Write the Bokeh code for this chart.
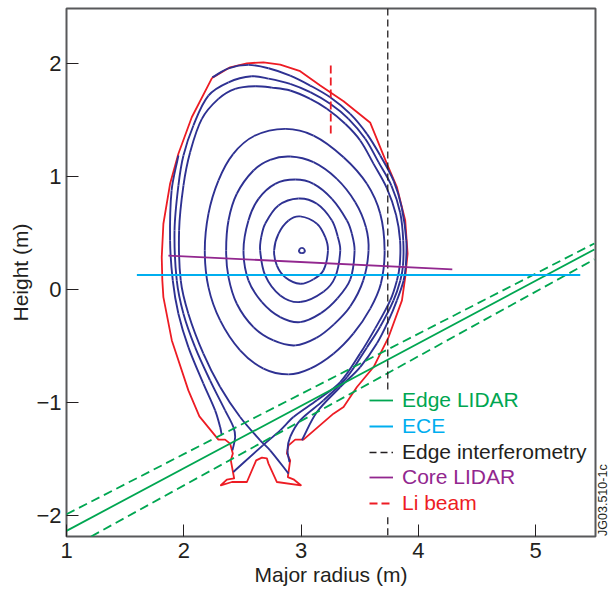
from bokeh.plotting import figure
from bokeh.models import Legend, LegendItem, LinearAxis, FixedTicker
from bokeh.embed import file_html
from bokeh.resources import INLINE
import math

nan = float("nan")

wall_r = [2.241,2.395,2.538,2.679,2.822,2.992,3.163,3.362,3.590,3.732,3.817,3.888,3.908,3.888,3.860,3.746,3.618,3.476,3.362,3.276,3.020,2.950,2.893,2.879,2.907,2.887,2.935,2.998,2.794,2.722,2.708,2.666,2.617,2.538,2.410,2.316,2.367,2.429,2.401,2.418,2.395,2.352,2.295,2.133,2.039,1.898,1.826,1.817,1.812,1.826,1.883,1.954,2.068,2.241]
wall_z = [1.875,1.969,2.004,2.013,1.993,1.934,1.807,1.668,1.477,1.113,0.906,0.611,0.316,0.109,-0.097,-0.422,-0.688,-0.865,-1.043,-1.101,-1.331,-1.331,-1.382,-1.453,-1.515,-1.663,-1.683,-1.736,-1.707,-1.544,-1.497,-1.491,-1.515,-1.707,-1.707,-1.736,-1.686,-1.674,-1.515,-1.455,-1.367,-1.331,-1.331,-1.125,-0.895,-0.452,-0.068,0.080,0.286,0.582,0.936,1.202,1.526,1.875]

sol1a_r = [2.324,2.310,2.267,2.167,2.039,1.954,1.906,1.883,1.896,1.954]
sol1a_z = [-1.293,-1.220,-1.072,-0.835,-0.511,-0.215,0.080,0.434,0.877,1.187]
sol1b_r = [2.244,2.381,2.551,2.722,2.907,3.078,3.248,3.419,3.561,3.675,3.790,3.858,3.897,3.893,3.874,3.817,3.746,3.647,3.504,3.334,3.135,3.007]
sol1b_z = [1.880,1.960,1.990,1.960,1.895,1.807,1.703,1.556,1.379,1.187,0.960,0.726,0.434,0.213,0.080,-0.097,-0.275,-0.478,-0.688,-0.865,-1.087,-1.337]
sol2_r = [2.415,2.438,2.423,2.352,2.224,2.096,1.997,1.940,1.921,1.954,1.997,2.082,2.210,2.381,2.580,2.722,2.907,3.078,3.248,3.404,3.547,3.660,3.770,3.845,3.871,3.869,3.846,3.788,3.675,3.561,3.391,3.191,2.992,2.907,2.884,2.901]
sol2_z = [-1.426,-1.308,-1.220,-1.072,-0.806,-0.511,-0.215,0.080,0.523,0.921,1.187,1.453,1.718,1.836,1.889,1.869,1.822,1.748,1.645,1.512,1.335,1.128,0.920,0.680,0.434,0.213,0.080,-0.097,-0.328,-0.514,-0.777,-0.983,-1.160,-1.308,-1.426,-1.530]
sep_r = [2.893,2.736,2.651,2.480,2.310,2.167,2.039,1.974,1.960,1.997,2.054,2.154,2.295,2.438,2.608,2.751,2.907,3.078,3.220,3.376,3.504,3.618,3.730,3.810,3.844,3.841,3.817,3.760,3.632,3.504,3.334,3.135,2.935,2.822,2.674,2.423]
sep_z = [-1.632,-1.426,-1.337,-1.131,-0.865,-0.570,-0.215,0.080,0.523,0.921,1.216,1.512,1.689,1.778,1.801,1.789,1.763,1.689,1.601,1.468,1.320,1.113,0.900,0.660,0.434,0.213,0.080,-0.097,-0.345,-0.567,-0.821,-0.983,-1.131,-1.249,-1.382,-1.618]

c1_r = [2.864,3.106,3.362,3.561,3.675,3.712,3.680,3.590,3.447,3.276,3.078,2.893,2.679,2.480,2.310,2.210,2.179,2.210,2.295,2.420,2.600,2.864]
c1_z = [1.423,1.364,1.172,0.936,0.670,0.345,0.050,-0.170,-0.390,-0.570,-0.702,-0.753,-0.702,-0.540,-0.275,0.020,0.345,0.670,0.965,1.200,1.360,1.423]
c2_r = [2.907,3.106,3.305,3.462,3.553,3.575,3.530,3.420,3.280,3.130,2.950,2.765,2.594,2.452,2.381,2.361,2.381,2.452,2.594,2.736,2.907]
c2_z = [1.178,1.128,0.980,0.773,0.552,0.345,0.080,-0.150,-0.310,-0.430,-0.496,-0.452,-0.334,-0.127,0.109,0.345,0.611,0.848,1.054,1.149,1.178]
c3_r = [2.950,3.106,3.263,3.391,3.433,3.456,3.420,3.310,3.170,2.992,2.822,2.666,2.551,2.509,2.551,2.637,2.779,2.950]
c3_z = [0.974,0.936,0.803,0.611,0.493,0.345,0.090,-0.080,-0.210,-0.290,-0.245,-0.112,0.080,0.345,0.611,0.803,0.936,0.974]
c4_r = [2.978,3.135,3.263,3.312,3.334,3.291,3.191,2.992,2.822,2.694,2.651,2.660,2.694,2.807,2.978]
c4_z = [0.806,0.759,0.611,0.470,0.345,0.110,-0.020,-0.112,-0.053,0.124,0.345,0.463,0.582,0.744,0.806]
c5_r = [2.992,3.135,3.206,3.229,3.191,3.106,2.992,2.864,2.794,2.770,2.807,2.893,2.992]
c5_z = [0.647,0.582,0.463,0.345,0.170,0.090,0.050,0.109,0.210,0.345,0.493,0.611,0.647]
c6_r = [3.007,3.026,3.029,3.007,2.985,2.988,3.007]
c6_z = [0.368,0.358,0.332,0.322,0.332,0.358,0.368]

edge_r = [1.0, 5.5]
edge_z = [-2.14, 0.354]
edge_hi_r = [1.0, 5.5]
edge_hi_z = [-1.993, 0.407]
edge_lo_r = [1.21, 5.5]
edge_lo_z = [-2.19, 0.266]
ece_r = [1.60, 5.38]
ece_z = [0.128, 0.128]
interf_r = [3.739, 3.739, nan, 3.739, 3.739]
interf_z = [2.49, -0.90, nan, -2.02, -2.19]
core_r = [1.869, 4.289]
core_z = [0.30, 0.177]
li_r = [3.253, 3.253]
li_z = [1.984, 1.346]

x_ticks = [1, 2, 3, 4, 5]
y_ticks = [-2, -1, 0, 1, 2]
y_tick_labels = {-2: "\u22122", -1: "\u22121", 0: "0", 1: "1", 2: "2"}
legend_labels = ["Edge LIDAR", "ECE", "Edge interferometry", "Core LIDAR", "Li beam"]
stamp_text = "JG03.510-1c"
stamp_height = -2.185

BLUE = "#2e3192"
RED = "#ed1c24"
GREEN = "#00a651"
CYAN = "#00aeef"
BLACK = "#231f20"
PURPLE = "#92278f"
FONT = "Liberation Sans"

p = figure(width=609, height=593, output_backend="svg", toolbar_location=None,
           x_range=(1, 5.51), y_range=(-2.19, 2.49),
           min_border_left=66, min_border_right=14, min_border_top=8, min_border_bottom=49,
           frame_width=529, frame_height=528, background_fill_color="white")
p.grid.visible = False
p.outline_line_color = "#58595b"
p.outline_line_width = 2

for ax in (p.xaxis[0], p.yaxis[0]):
    ax.axis_line_color = None
    ax.major_tick_in = 12
    ax.major_tick_out = 0
    ax.minor_tick_line_color = None
    ax.major_tick_line_color = BLACK
    ax.major_tick_line_width = 1
    ax.major_label_text_font = FONT
    ax.major_label_text_font_size = "22px"
    ax.major_label_text_color = BLACK
    ax.axis_label_text_font = FONT
    ax.axis_label_text_font_size = "21px"
    ax.axis_label_text_font_style = "normal"
    ax.axis_label_text_color = BLACK

p.xaxis[0].ticker = FixedTicker(ticks=x_ticks)
p.yaxis[0].ticker = FixedTicker(ticks=y_ticks)
p.yaxis[0].major_label_overrides = y_tick_labels
p.xaxis[0].axis_label = "Major radius (m)"
p.yaxis[0].axis_label = "Height (m)"
p.xaxis[0].major_label_standoff = 6
p.xaxis[0].axis_label_standoff = 2
p.yaxis[0].major_label_standoff = 5
p.yaxis[0].axis_label_standoff = 1

stamp_axis = LinearAxis(ticker=FixedTicker(ticks=[stamp_height]),
                        major_label_overrides={stamp_height: stamp_text},
                        major_label_orientation=math.pi / 2,
                        major_label_standoff=2,
                        major_label_text_font=FONT, major_label_text_font_size="12.5px",
                        major_label_text_color=BLACK,
                        axis_line_color=None, major_tick_line_color=None,
                        minor_tick_line_color=None)
p.add_layout(stamp_axis, "right")


def smooth(r, z, closed):
    """Draw a flux surface as a smooth curve through the points that were read."""
    n = len(r)

    def tangent(i):
        if closed:
            a, b = (i - 1) % (n - 1), (i + 1) % (n - 1)
        else:
            a, b = max(i - 1, 0), min(i + 1, n - 1)
        dx, dy = r[b] - r[a], z[b] - z[a]
        d = math.hypot(dx, dy) or 1.0
        return dx / d, dy / d

    out = []
    for i in range(n - 1):
        s = math.hypot(r[i + 1] - r[i], z[i + 1] - z[i]) / 3
        t0, t1 = tangent(i), tangent(i + 1)
        out.append((r[i], z[i], r[i + 1], z[i + 1],
                    r[i] + s * t0[0], z[i] + s * t0[1],
                    r[i + 1] - s * t1[0], z[i + 1] - s * t1[1]))
    x0, y0, x1, y1, cx0, cy0, cx1, cy1 = map(list, zip(*out))
    p.bezier(x0, y0, x1, y1, cx0, cy0, cx1, cy1, line_color=BLUE, line_width=1.9)


lw = 1.8
p.line(wall_r, wall_z, line_color=RED, line_width=lw, line_join="round")
for r, z in [(sol1a_r, sol1a_z), (sol1b_r, sol1b_z), (sol2_r, sol2_z), (sep_r, sep_z)]:
    smooth(r, z, False)
for r, z in [(c1_r, c1_z), (c2_r, c2_z), (c3_r, c3_z), (c4_r, c4_z), (c5_r, c5_z), (c6_r, c6_z)]:
    smooth(r, z, True)

r_edge = p.line(edge_r, edge_z, line_color=GREEN, line_width=lw)
p.line(edge_hi_r, edge_hi_z, line_color=GREEN, line_width=lw, line_dash="9 5")
p.line(edge_lo_r, edge_lo_z, line_color=GREEN, line_width=lw, line_dash="9 5")
r_ece = p.line(ece_r, ece_z, line_color=CYAN, line_width=2)
r_int = p.line(interf_r, interf_z, line_color=BLACK, line_width=1.3, line_dash="7 4")
r_core = p.line(core_r, core_z, line_color=PURPLE, line_width=lw)
r_li = p.line(li_r, li_z, line_color=RED, line_width=lw, line_dash="8 4")

rows = list(zip(legend_labels, [r_edge, r_ece, r_int, r_core, r_li],
                [GREEN, CYAN, BLACK, PURPLE, RED], [124, 98, 72, 47, 21]))
for label, rend, col, ypos in rows:
    leg = Legend(items=[LegendItem(label=label, renderers=[rend])], location=(303, ypos),
                 background_fill_alpha=0, border_line_alpha=0, padding=0, margin=0,
                 glyph_width=24, glyph_height=20, label_height=20, label_standoff=9,
                 label_text_color=col, label_text_font=FONT, label_text_font_size="21px")
    p.add_layout(leg, "center")

open("out.html", "w").write(file_html(p, INLINE))
